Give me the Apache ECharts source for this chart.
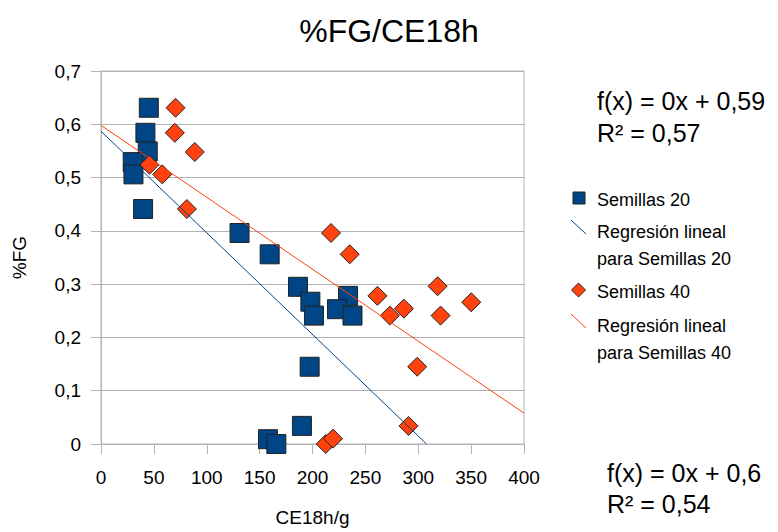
<!DOCTYPE html>
<html>
<head>
<meta charset="utf-8">
<script src="https://cdn.jsdelivr.net/npm/echarts@6/dist/echarts.min.js"></script>
<style>
html,body{margin:0;padding:0;background:#fff;}
#chart{width:778px;height:532px;}
</style>
</head>
<body>
<div id="chart"></div>
<script>
// ---- data ----
const titleText = '%FG/CE18h';
const xName = 'CE18h/g';
const yName = '%FG';

const semillas20X = [45.2, 42.0, 44.2, 30.0, 30.7, 39.8, 131.0, 159.5, 186.3, 198.0, 201.4, 233.6, 223.2, 237.8, 197.3, 190.0, 157.9, 165.8];
const semillas20Y = [0.631, 0.584, 0.549, 0.529, 0.506, 0.441, 0.396, 0.356, 0.295, 0.267, 0.241, 0.278, 0.253, 0.241, 0.145, 0.034, 0.009, 0.0];

const semillas40X = [70.5, 69.8, 88.7, 45.8, 57.9, 81.2, 217.5, 235.2, 261.4, 273.1, 286.4, 318.3, 321.1, 350.1, 299.0, 290.8, 212.5, 219.4];
const semillas40Y = [0.631, 0.584, 0.548, 0.524, 0.506, 0.441, 0.396, 0.356, 0.278, 0.241, 0.254, 0.296, 0.241, 0.266, 0.145, 0.034, 0.0, 0.010];

// trend line end points
const trend20X = [0, 307.8];
const trend20Y = [0.587, 0];
const trend40X = [0, 400];
const trend40Y = [0.598, 0.058];

const legendNames = ['Semillas 20', 'Regresión lineal\npara Semillas 20', 'Semillas 40', 'Regresión lineal\npara Semillas 40'];
const eq20 = ['f(x) = 0x + 0,59', 'R² = 0,57'];
const eq40 = ['f(x) = 0x + 0,6', 'R² = 0,54'];

const FONT = '"Liberation Sans", Arial, sans-serif';
const BLUE = '#004586';
const ORANGE = '#ff420e';
const GRIDC = '#b3b3b3';

function pairs(xs, ys){ return xs.map((x,i)=>[x, ys[i]]); }

const chart = echarts.init(document.getElementById('chart'), null, {renderer:'svg'});

const legendGraphics = [
  {type:'rect', shape:{x:573, y:192, width:12, height:12}, style:{fill:BLUE, stroke:'#222', lineWidth:1}},
  {type:'text', left:597, top:191, style:{text:legendNames[0], font:'18px '+FONT, fill:'#000'}},
  {type:'line', shape:{x1:571, y1:220, x2:586, y2:234}, style:{stroke:BLUE, lineWidth:1}},
  {type:'text', left:597, top:218, style:{text:legendNames[1], font:'18px '+FONT, fill:'#000', lineHeight:27}},
  {type:'polygon', shape:{points:[[578.5,283],[585.5,290],[578.5,297],[571.5,290]]}, style:{fill:ORANGE, stroke:'#222', lineWidth:1}},
  {type:'text', left:597, top:283, style:{text:legendNames[2], font:'18px '+FONT, fill:'#000'}},
  {type:'line', shape:{x1:571, y1:314, x2:586, y2:328}, style:{stroke:ORANGE, lineWidth:1}},
  {type:'text', left:597, top:312, style:{text:legendNames[3], font:'18px '+FONT, fill:'#000', lineHeight:27}},
  {type:'text', left:597, top:85, style:{text:eq20.join('\n'), font:'25px '+FONT, fill:'#000', lineHeight:32}},
  {type:'text', left:607, top:457, style:{text:eq40.join('\n'), font:'25px '+FONT, fill:'#000', lineHeight:31}}
];

const option = {
  backgroundColor:'#fff',
  animation:false,
  title:{
    text:titleText, left:'center', top:10,
    textStyle:{fontFamily:FONT, fontSize:32, fontWeight:'normal', color:'#000'}
  },
  grid:{left:101, right:254, top:71, bottom:86, show:true, borderColor:GRIDC, borderWidth:1},
  xAxis:{
    type:'value', min:0, max:400, interval:50,
    name:xName, nameLocation:'middle', nameGap:64,
    nameTextStyle:{fontFamily:FONT, fontSize:19, color:'#000'},
    axisLine:{show:true, lineStyle:{color:GRIDC}},
    axisTick:{show:true, length:10, lineStyle:{color:GRIDC}},
    splitLine:{show:false},
    axisLabel:{margin:24, fontFamily:FONT, fontSize:19, color:'#000'}
  },
  yAxis:{
    type:'value', min:0, max:0.7, interval:0.1,
    name:yName, nameLocation:'middle', nameGap:72, nameRotate:90,
    nameTextStyle:{fontFamily:FONT, fontSize:19, color:'#000'},
    axisLine:{show:true, lineStyle:{color:GRIDC}},
    axisTick:{show:true, length:10, lineStyle:{color:GRIDC}},
    splitLine:{show:true, lineStyle:{color:GRIDC}},
    axisLabel:{margin:20, fontFamily:FONT, fontSize:19, color:'#000',
      formatter:v => v === 0 ? '0' : v.toFixed(1).replace('.', ',')}
  },
  series:[
    {name:'Semillas 20', type:'scatter', symbol:'rect', symbolSize:19,
     itemStyle:{color:BLUE, borderColor:'#222', borderWidth:1, opacity:1},
     data:pairs(semillas20X, semillas20Y), z:2},
    {name:'Semillas 40', type:'scatter', symbol:'diamond', symbolSize:19,
     itemStyle:{color:ORANGE, borderColor:'#222', borderWidth:1, opacity:1},
     data:pairs(semillas40X, semillas40Y), z:3},
    {name:'Regresión lineal para Semillas 20', type:'line', showSymbol:false, symbol:'none',
     lineStyle:{color:BLUE, width:1}, data:pairs(trend20X, trend20Y), z:4},
    {name:'Regresión lineal para Semillas 40', type:'line', showSymbol:false, symbol:'none',
     lineStyle:{color:ORANGE, width:1}, data:pairs(trend40X, trend40Y), z:5}
  ],
  graphic: legendGraphics
};
chart.setOption(option);
</script>
</body>
</html>
